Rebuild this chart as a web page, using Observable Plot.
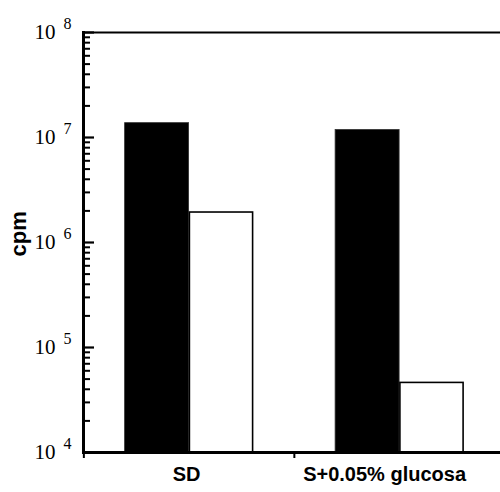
<!DOCTYPE html>
<html><head><meta charset="utf-8">
<script src="https://cdn.jsdelivr.net/npm/d3@7"></script>
<script src="https://cdn.jsdelivr.net/npm/@observablehq/plot@0.6"></script>
<style>
body{margin:0;background:#fff}
#chart{width:500px;height:492px}
</style>
</head><body><div id="chart"></div>
<script>
// ---- data ----
const groups = ["SD", "S+0.05% glucosa"];
const filledValues = [1.37e7, 1.18e7];   // black bars
const openValues = [1.93e6, 4.6e4];      // white bars
const yDomain = [1e4, 1e8];
const majorTicks = [1e4, 1e5, 1e6, 1e7, 1e8];
const majorBase = ["10", "10", "10", "10", "10"];
const majorExponents = ["4", "5", "6", "7", "8"];
const minorMultipliers = [2, 3, 4, 5, 6, 7, 8, 9];
const yTitle = "cpm";

// ---- layout ----
const W = 500, H = 492, ML = 83, MR = 0, MT = 32, MB = 40;
const padIn = 0.392, padOut = 0.1865, align = 0.53;
const xs = d3.scaleBand(groups, [ML, W - MR]).paddingInner(padIn).paddingOuter(padOut).align(align);
const half = xs.bandwidth() / 2;
const step = xs.step();
const frameW = W - ML - MR, frameH = H - MT - MB;

const minorTicks = majorTicks.slice(0, -1).flatMap(d => minorMultipliers.map(m => m * d));
const filled = groups.map((g, i) => ({group: g, value: filledValues[i]}));
const open = groups.map((g, i) => ({group: g, value: openValues[i]}));

const serif = "Liberation Serif, Times New Roman, serif";
const sans = "Liberation Sans, Arial, sans-serif";

const chart = Plot.plot({
  width: W, height: H,
  marginLeft: ML, marginRight: MR, marginTop: MT, marginBottom: MB,
  x: {type: "band", domain: groups, paddingInner: padIn, paddingOuter: padOut, align, round: false, axis: null},
  y: {type: "log", domain: yDomain, axis: null},
  marks: [
    Plot.barY(filled, {x: "group", y1: () => yDomain[0], y2: "value", fill: "black", stroke: "#333", strokeWidth: 0.8, insetRight: half}),
    Plot.barY(open, {x: "group", y1: () => yDomain[0], y2: "value", fill: "white", stroke: "black", strokeWidth: 1.6, insetLeft: half + 0.8}),
    // top and bottom lines
    Plot.ruleY([yDomain[1]], {stroke: "black", strokeWidth: 2}),
    Plot.ruleY([yDomain[0]], {stroke: "black", strokeWidth: 3}),
    // left axis line
    Plot.frame({anchor: "left", stroke: "black", strokeWidth: 3}),
    // inward y ticks
    Plot.ruleY(majorTicks, {y: d => d, insetRight: frameW - 11, stroke: "black", strokeWidth: 2.2}),
    Plot.ruleY(minorTicks, {y: d => d, insetRight: frameW - 7, stroke: "black", strokeWidth: 2}),
    // x ticks at category boundaries (below the axis)
    Plot.ruleX(groups, {x: d => d, dx: -step / 2, insetTop: frameH, insetBottom: -6, stroke: "black", strokeWidth: 2}),
    // y tick labels 10^n
    Plot.text(majorTicks, {y: d => d, text: (d, i) => majorBase[i], frameAnchor: "left", textAnchor: "end", dx: -28, fontSize: 21, fontFamily: serif, fill: "black"}),
    Plot.text(majorTicks, {y: d => d, text: (d, i) => majorExponents[i], frameAnchor: "left", textAnchor: "start", dx: -20, dy: -9, fontSize: 16, fontFamily: serif, fill: "black"}),
    // y title
    Plot.text([yTitle], {text: d => d, frameAnchor: "left", rotate: -90, dx: -64.5, dy: 14, fontSize: 22, fontWeight: "bold", fontFamily: sans, fill: "black"}),
    // x labels
    Plot.text([groups[0]], {x: d => d, text: d => d, frameAnchor: "bottom", dy: 28, dx: -2.5, fontSize: 20, fontWeight: "bold", fontFamily: sans, fill: "black"}),
    Plot.text([groups[1]], {x: d => d, text: d => d, frameAnchor: "bottom", dy: 28, dx: -15, fontSize: 20, fontWeight: "bold", fontFamily: sans, fill: "black"})
  ]
});
document.getElementById("chart").append(chart);
</script>
</body></html>
